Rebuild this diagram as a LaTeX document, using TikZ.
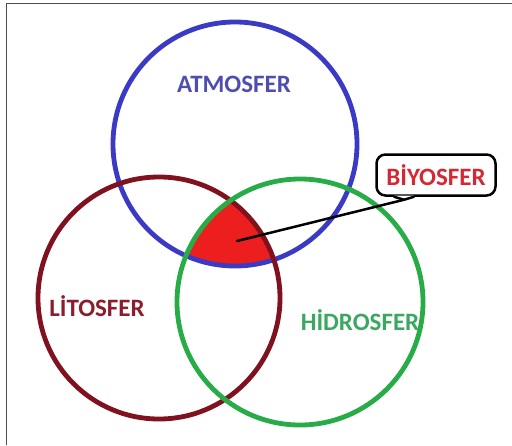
\documentclass[tikz,border=0pt]{standalone}
\usepackage{fontspec}
\newfontfamily\labelfont{Carlito}
\usetikzlibrary{positioning}

\definecolor{atmoblue}{RGB}{58,58,196}
\definecolor{atmotext}{RGB}{78,78,178}
\definecolor{litored}{RGB}{128,18,32}
\definecolor{litotext}{RGB}{138,30,44}
\definecolor{hidrogreen}{RGB}{40,172,72}
\definecolor{hidrotext}{RGB}{58,168,98}
\definecolor{biyofill}{RGB}{236,30,30}
\definecolor{biyotext}{RGB}{212,40,52}

\begin{document}
\begin{tikzpicture}[x=1pt,y=-1pt]
        % Define styles for circles and labels
        \tikzstyle{sphere} = [line width=4.8pt]
        \tikzstyle{label} = [font=\labelfont\bfseries\fontsize{25}{30}\selectfont, inner sep=0pt]
        \tikzstyle{bubble} = [rectangle, draw, line width=2.5pt, rounded corners=9pt, fill=white, minimum width=119pt, minimum height=41pt, inner sep=0pt]
        \tikzstyle{pointer} = [line width=2.5pt, line cap=round, line join=round]

        \useasboundingbox (0,0) rectangle (512,445);

        % Frame
        \draw[gray!60!black, line width=1pt] (6,445) -- (6,3) -- (512,3);

        % Centres
        \coordinate (atmo) at (235,144);
        \coordinate (lito) at (159,298);
        \coordinate (hidro) at (300,302);

        % Common part
        \begin{scope}
          \clip (atmo) circle[radius=122pt];
          \clip (lito) circle[radius=121pt];
          \fill[biyofill] (hidro) circle[radius=123pt];
        \end{scope}

        % Circles
        \draw[sphere, atmoblue] (atmo) circle[radius=122pt];
        \draw[sphere, litored] (lito) circle[radius=121pt];
        \draw[sphere, hidrogreen] (hidro) circle[radius=123pt];

        % Labels
        \node[label, text=atmotext] (atmolabel) at (234,84) {ATMOSFER};
        \node[label, text=litotext] (litolabel) at (97,306) {LİTOSFER};
        \node[label, text=hidrotext] (hidrolabel) at (360,320) {HİDROSFER};

        % Callout
        \node[bubble] (biyo) at (436,175) {};
        \node[label, text=biyotext] (biyolabel) at (biyo) {BİYOSFER};
        \coordinate (tail) at ([xshift=-32pt,yshift=-3pt]biyo.south);
        \fill[white] ([xshift=-42pt,yshift=1.2pt]biyo.south) -- (tail) -- ([xshift=-22pt,yshift=1.2pt]biyo.south) -- cycle;
        \draw[pointer] ([xshift=-42pt]biyo.south) -- (tail) -- ([xshift=-22pt]biyo.south);
        \coordinate (core) at (237,241);
        \draw[pointer] (core) -- (tail);
\end{tikzpicture}
\end{document}
